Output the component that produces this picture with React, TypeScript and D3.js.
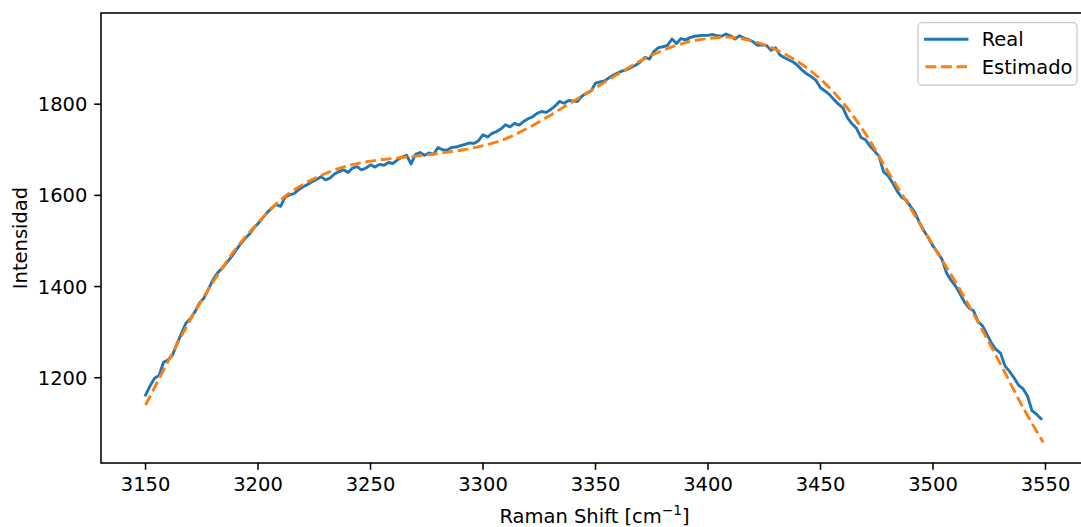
import React from 'react';
import * as d3 from 'd3';

// Real spectrum: Raman shift grid (cm^-1) and measured intensity
const realShift: number[] = d3.range(3150, 3550, 2);
const realIntensity: number[] = [
  1162, 1182, 1199, 1205, 1234, 1239, 1250, 1275, 1298, 1320,
  1330, 1345, 1364, 1375, 1395, 1415, 1430, 1440, 1452, 1464,
  1478, 1492, 1504, 1514, 1528, 1538, 1550, 1562, 1572, 1580,
  1576, 1596, 1601, 1604, 1612, 1619, 1624, 1630, 1635, 1641,
  1634,
  1638, 1647, 1652, 1656, 1650, 1660, 1663, 1656, 1660, 1667,
  1662, 1668, 1666, 1672, 1670, 1678, 1684, 1688, 1669, 1690,
  1694, 1688, 1693, 1690, 1705, 1700, 1699, 1705, 1706, 1709,
  1712, 1715, 1714, 1720, 1733, 1728, 1736, 1740, 1746, 1755,
  1750, 1758, 1754, 1762, 1768, 1772, 1780, 1784, 1782, 1788,
  1796, 1806,
  1802, 1808, 1807, 1806, 1818, 1824, 1829, 1846, 1849, 1851,
  1858, 1864, 1869, 1873, 1876, 1881, 1886, 1893, 1903, 1899,
  1916, 1924, 1926, 1929, 1943, 1933, 1944, 1941, 1946, 1949,
  1950, 1951, 1951, 1953, 1950, 1949, 1954, 1950, 1943, 1950,
  1945, 1942, 1937, 1929, 1930, 1929, 1918, 1924, 1908, 1902,
  1897, 1892, 1884, 1874, 1866, 1860, 1852, 1836, 1829, 1821,
  1810, 1800, 1792, 1770, 1757, 1747,
  1727, 1722, 1708, 1697, 1686, 1652, 1643, 1628, 1610, 1596,
  1590, 1576, 1562, 1540, 1522, 1507, 1489, 1475, 1460, 1430,
  1414, 1401, 1384, 1366, 1353, 1347, 1323, 1314, 1295, 1276,
  1262, 1254, 1226, 1214, 1200, 1184, 1176, 1160, 1128, 1120,
  1110,
];

// Estimated (fitted) curve
const estShift: number[] = [
  3150, 3160, 3170, 3180, 3190, 3200, 3210, 3220, 3230, 3240,
  3250, 3260, 3270, 3280, 3290, 3300, 3310, 3320, 3330, 3340,
  3350, 3360, 3370, 3380, 3390, 3400, 3410, 3420, 3430, 3440,
  3450, 3460, 3470, 3480, 3490, 3500, 3510, 3520, 3530, 3540,
  3549,
];
const estIntensity: number[] = [
  1140, 1236, 1328, 1410, 1482, 1540, 1590, 1624, 1648, 1665,
  1675, 1681, 1686, 1692, 1699, 1709, 1724, 1748, 1776, 1806,
  1836, 1866, 1895, 1918, 1935, 1944, 1947, 1938, 1920, 1893,
  1855, 1803, 1735, 1652, 1572, 1490, 1410, 1322, 1230, 1135,
  1058,
];

const xTicks: number[] = [3150, 3200, 3250, 3300, 3350, 3400, 3450, 3500, 3550];
const yTicks: number[] = [1200, 1400, 1600, 1800];
const seriesNames: string[] = ['Real', 'Estimado'];

const BLUE = '#1f77b4';
const ORANGE = '#ff7f0e';
const FONT = '"DejaVu Sans", Verdana, sans-serif';

export default function App() {
  const W = 1081;
  const H = 527;
  const left = 101, right = 1088, top = 13, bottom = 463;
  const fs = 19.5;
  const tickLen = 6.8;
  const pad = 6.8;

  const x = d3.scaleLinear().domain([3130.2, 3568.9]).range([left, right]);
  const y = d3.scaleLinear().domain([1013, 2000]).range([bottom, top]);

  const realData: [number, number][] = realShift
    .slice(0, Math.min(realShift.length, realIntensity.length))
    .map((s, i) => [s, realIntensity[i]]);
  const estData: [number, number][] = estShift.map((s, i) => [s, estIntensity[i]]);

  const line = d3
    .line<[number, number]>()
    .x((d) => x(d[0]))
    .y((d) => y(d[1]));
  const smooth = d3
    .line<[number, number]>()
    .x((d) => x(d[0]))
    .y((d) => y(d[1]))
    .curve(d3.curveCatmullRom.alpha(0.5));

  const lw = 2.9;
  const dash = '10.8 4.7';

  return (
    <svg
      width={W}
      height={H}
      viewBox={`0 0 ${W} ${H}`}
      style={{ position: 'absolute', left: 0, top: 0, background: '#fff' }}
      fontFamily={FONT}
    >
      <rect x={0} y={0} width={W} height={H} fill="#fff" />
      <defs>
        <clipPath id="plotclip">
          <rect x={left} y={top} width={right - left} height={bottom - top} />
        </clipPath>
      </defs>

      <g clipPath="url(#plotclip)">
        <path
          d={line(realData) || ''}
          fill="none"
          stroke={BLUE}
          strokeWidth={lw}
          strokeLinejoin="round"
          strokeLinecap="square"
        />
        <path
          d={smooth(estData) || ''}
          fill="none"
          stroke={ORANGE}
          strokeWidth={lw}
          strokeDasharray={dash}
          strokeLinecap="butt"
        />
      </g>

      {/* spines */}
      <rect
        x={left}
        y={top}
        width={right - left}
        height={bottom - top}
        fill="none"
        stroke="#000"
        strokeWidth={1.56}
      />

      {/* x ticks */}
      {xTicks.map((t) => (
        <g key={`x${t}`}>
          <line x1={x(t)} x2={x(t)} y1={bottom} y2={bottom + tickLen} stroke="#000" strokeWidth={1.56} />
          <text x={x(t)} y={bottom + tickLen + pad + 0.729 * fs} fontSize={fs} textAnchor="middle" fill="#000">
            {t}
          </text>
        </g>
      ))}

      {/* y ticks */}
      {yTicks.map((t) => (
        <g key={`y${t}`}>
          <line x1={left - tickLen} x2={left} y1={y(t)} y2={y(t)} stroke="#000" strokeWidth={1.56} />
          <text x={left - tickLen - pad} y={y(t) + 0.3645 * fs} fontSize={fs} textAnchor="end" fill="#000">
            {t}
          </text>
        </g>
      ))}

      {/* axis labels */}
      <text x={(left + right) / 2} y={523} fontSize={fs} textAnchor="middle" fill="#000">
        Raman Shift [cm
        <tspan fontSize={fs * 0.7} dy={-8}>
          −1
        </tspan>
        <tspan dy={8}>]</tspan>
      </text>
      <text
        transform={`translate(26.7, ${(top + bottom) / 2}) rotate(-90)`}
        fontSize={fs}
        textAnchor="middle"
        fill="#000"
      >
        Intensidad
      </text>

      {/* legend */}
      <g>
        <rect
          x={918}
          y={22.7}
          width={159}
          height={62.3}
          rx={4}
          ry={4}
          fill="#fff"
          fillOpacity={0.8}
          stroke="#cccccc"
          strokeWidth={1.3}
        />
        <line x1={925.5} x2={967} y1={39.3} y2={39.3} stroke={BLUE} strokeWidth={lw} strokeLinecap="square" />
        <text x={981.7} y={39.3 + 0.3645 * fs} fontSize={fs} fill="#000">
          {seriesNames[0]}
        </text>
        <line
          x1={925.5}
          x2={967}
          y1={66.7}
          y2={66.7}
          stroke={ORANGE}
          strokeWidth={lw}
          strokeDasharray={dash}
          strokeLinecap="butt"
        />
        <text x={981.7} y={66.7 + 0.3645 * fs} fontSize={fs} fill="#000">
          {seriesNames[1]}
        </text>
      </g>
    </svg>
  );
}
